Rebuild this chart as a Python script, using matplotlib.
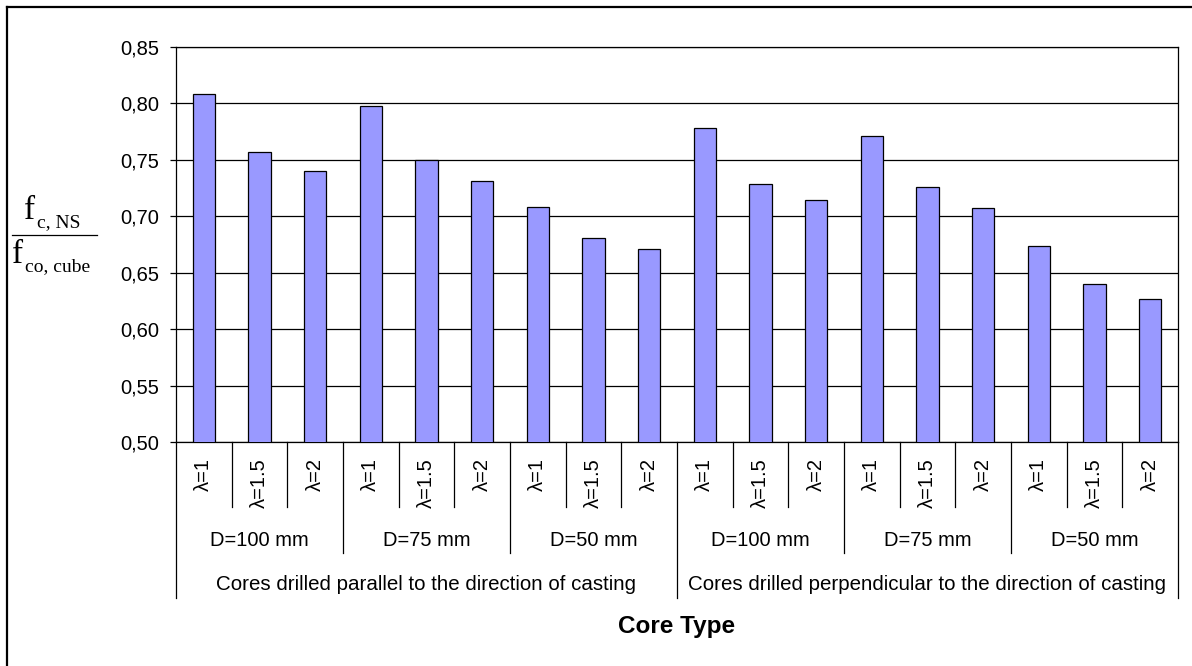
import matplotlib
matplotlib.use("Agg")
import matplotlib.pyplot as plt
import matplotlib.transforms as mtransforms
from matplotlib.lines import Line2D
import numpy as np

orientations = ["Cores drilled parallel to the direction of casting",
                "Cores drilled perpendicular to the direction of casting"]
diameters = ["D=100 mm", "D=75 mm", "D=50 mm"]
ratios = ["λ=1", "λ=1.5", "λ=2"]
values = [0.808, 0.757, 0.740, 0.798, 0.750, 0.731, 0.708, 0.681, 0.671,
          0.778, 0.729, 0.714, 0.771, 0.726, 0.707, 0.674, 0.640, 0.627]
yticks = [0.50, 0.55, 0.60, 0.65, 0.70, 0.75, 0.80, 0.85]
xlabel = "Core Type"

W, H = 1192, 666
fig = plt.figure(figsize=(W / 100, H / 100), dpi=100)
plt.rcParams['font.family'] = ['Liberation Sans', 'DejaVu Sans']

L, R, T, B = 176, 1178, 47, 442
ax = fig.add_axes([L / W, 1 - B / H, (R - L) / W, (B - T) / H])

n = len(values)
x = np.arange(n)
ax.bar(x, values, width=0.4, color="#9999FF", edgecolor="black", linewidth=0.9, zorder=3)
ax.set_xlim(-0.5, n - 0.5)
ax.set_ylim(yticks[0], yticks[-1])
ax.set_yticks(yticks)
ax.set_yticklabels([f"{v:.2f}".replace('.', ',') for v in yticks], fontsize=14.5)
ax.yaxis.grid(True, color="black", linewidth=0.9, zorder=0)
ax.set_axisbelow(True)
ax.tick_params(axis='y', direction='out', length=4.5, width=0.9, pad=7.5, color='black')
ax.tick_params(axis='x', bottom=False, labelbottom=False)
for s in ['left', 'bottom', 'right', 'top']:
    ax.spines[s].set_linewidth(0.9)
    ax.spines[s].set_color('black')

trans = mtransforms.blended_transform_factory(ax.transData, fig.transFigure)

def fy(py):
    return 1 - py / H

# separators
nd = len(diameters)
nr = len(ratios)
for b in range(n + 1):
    xb = b - 0.5
    if b % (nd * nr) == 0:
        ybot = 598
    elif b % nr == 0:
        ybot = 553
    else:
        ybot = 507
    ax.add_line(Line2D([xb, xb], [fy(B), fy(ybot)], transform=trans, color='black',
                       linewidth=0.9, clip_on=False))

# level 1 labels
for i in range(n):
    fig.text(x[i], fy(458), ratios[i % nr], transform=trans, fontsize=14.5, rotation=90,
             ha='center', va='top')

# level 2 and 3 labels
for o in range(len(orientations)):
    for d in range(nd):
        c = o * nd * nr + d * nr + (nr - 1) / 2
        fig.text(c, fy(540), diameters[d], transform=trans, fontsize=14.5,
                 ha='center', va='center')
    c = o * nd * nr + (nd * nr - 1) / 2
    fig.text(c, fy(585), orientations[o], transform=trans, fontsize=14.8,
             ha='center', va='center')

fig.text((L + R) / 2 / W, fy(627), xlabel, fontsize=17.5, fontweight='bold',
         ha='center', va='center')

# y label fraction (serif)
serif = ['Liberation Serif', 'DejaVu Serif']
fig.text(24 / W, fy(219), "f", family=serif, fontsize=24, ha='left', va='baseline')
fig.text(37 / W, fy(227), "c, NS", family=serif, fontsize=14, ha='left', va='baseline')
fig.add_artist(Line2D([12 / W, 97 / W], [fy(235), fy(235)], color='black', linewidth=0.9))
fig.text(12 / W, fy(263), "f", family=serif, fontsize=24, ha='left', va='baseline')
fig.text(25 / W, fy(271), "co, cube", family=serif, fontsize=14, ha='left', va='baseline')

# outer border (top and left visible)
fig.add_artist(Line2D([7 / W, 1.0], [fy(7), fy(7)], color='black', linewidth=1.6))
fig.add_artist(Line2D([7 / W, 7 / W], [fy(7), 0.0], color='black', linewidth=1.6))

fig.savefig("out.png", dpi=100)
